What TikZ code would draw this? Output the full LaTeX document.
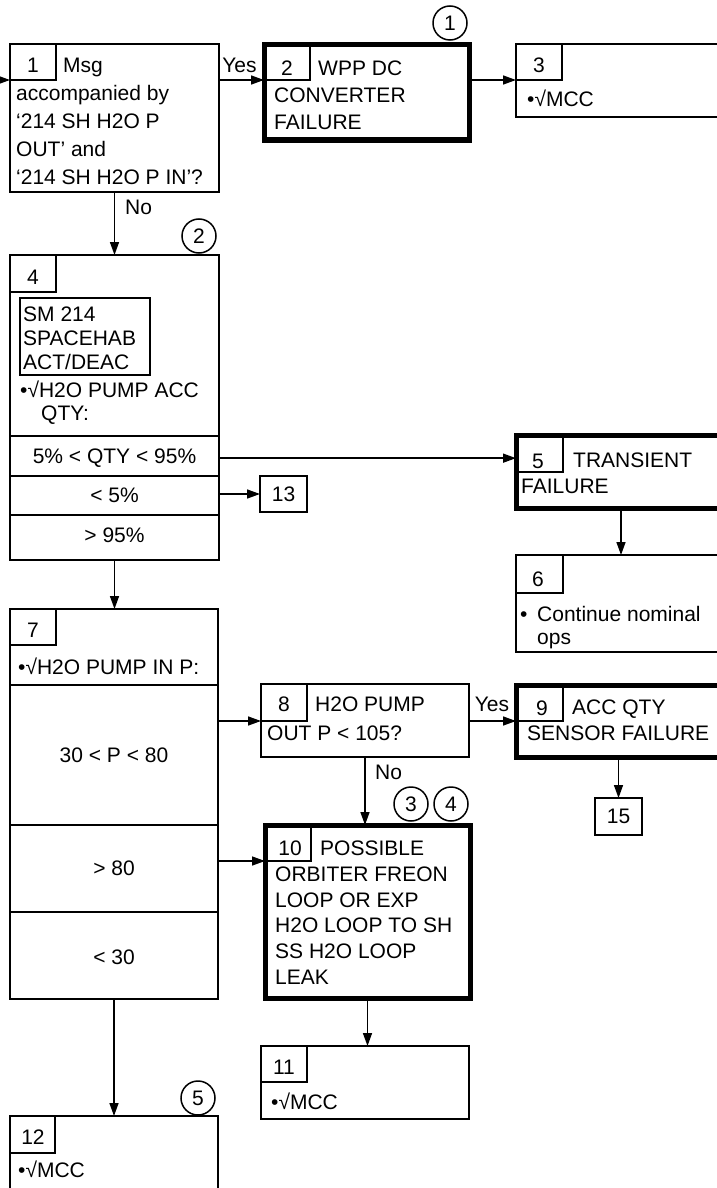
\documentclass[tikz,border=0pt]{standalone}
\usepackage{fontspec}
\setmainfont{Liberation Sans}
\usetikzlibrary{arrows.meta}
\newcommand\mlines[2]{\vtop{\baselineskip=#1pt\lineskiplimit=-30pt\lineskip=0pt #2}}
\tikzset{
  box/.style={draw, line width=2pt, anchor=north west, inner sep=0pt, outer sep=0pt},
  tbox/.style={box, line width=5pt},
  cell/.style={draw, line width=1.5pt, anchor=north west, inner sep=0pt, outer sep=0pt},
  num/.style={anchor=base, inner sep=0pt},
  txt/.style={anchor=base west, inner sep=0pt},
  rowlab/.style={anchor=base, inner sep=0pt},
  lab/.style={anchor=base, inner sep=0pt},
  arr/.style={line width=1.5pt, -{Triangle[length=13pt,width=9pt]}},
  circ/.style={draw, circle, line width=1.5pt, minimum size=34pt, inner sep=0pt},
  divider/.style={line width=2pt},
}
\begin{document}
\begin{tikzpicture}[x=1pt, y=-1pt, every node/.style={font=\fontsize{21}{25}\selectfont}]
\useasboundingbox (0,0) rectangle (717,1188);
\clip (0,0) rectangle (717,1188);
\fill[white] (0,0) rectangle (717,1188);

% Box 1
\node[box, minimum width=209pt, minimum height=148pt] (b1) at (10,44) {};
\node[cell, minimum width=46pt, minimum height=36pt] (n1) at (10,44) {};
\node[num] (k1) at (33,72.5) {1};
\node[txt] (t1) at (16,72.5) {\mlines{28}{\hbox{\hskip47pt Msg}\hbox{accompanied by}\hbox{‘214 SH H2O P}\hbox{OUT’ and}\hbox{‘214 SH H2O P IN’?}}};

% Box 2
\node[tbox, minimum width=205pt, minimum height=95pt] (b2) at (264,45) {};
\node[cell, minimum width=46pt, minimum height=35pt] (n2) at (264,45) {};
\node[num] (k2) at (287,75.5) {2};
\node[txt] (t2) at (274,75.5) {\mlines{27}{\hbox{\hskip44pt WPP DC}\hbox{CONVERTER}\hbox{FAILURE}}};
\node[circ] (c1) at (450,23) {1};

% Box 3
\node[box, minimum width=210pt, minimum height=73pt] (b3) at (516,44) {};
\node[cell, minimum width=46pt, minimum height=36pt] (n3) at (516,44) {};
\node[num] (k3) at (539,72.5) {3};
\node[txt] (t3) at (527,106.5) {•√MCC};

\node[lab] (y1) at (239.5,72.5) {Yes};
\node[txt] (no1) at (125,214.5) {No};
\node[circ] (c2) at (199,236) {2};

% Box 4
\node[box, minimum width=209pt, minimum height=305pt] (b4) at (10,255) {};
\node[cell, minimum width=46pt, minimum height=37pt] (n4) at (10,255) {};
\node[num] (k4) at (33,284.5) {4};
\node[cell, line width=2pt, minimum width=130pt, minimum height=77pt] (sm) at (20,298) {};
\node[txt] (tsm) at (23,321.5) {\mlines{24}{\hbox{SM 214}\hbox{SPACEHAB}\hbox{ACT/DEAC}}};
\node[txt] (t4) at (20,397.5) {\mlines{23}{\hbox{•√H2O PUMP ACC}\hbox{\hskip21pt QTY:}}};
\draw[divider] (b4.west |- 0,436) -- (b4.east |- 0,436);
\draw[divider] (b4.west |- 0,476) -- (b4.east |- 0,476);
\draw[divider] (b4.west |- 0,515) -- (b4.east |- 0,515);
\node[rowlab] (r41) at (114.5,463.5) {5\% < QTY < 95\%};
\node[rowlab] (r42) at (114.5,502.5) {< 5\%};
\node[rowlab] (r43) at (114.5,542.5) {> 95\%};

% Box 13
\node[box, minimum width=47pt, minimum height=36pt] (b13) at (260,476) {};
\node[num] (k13) at (283.5,501.5) {13};

% Box 5
\node[tbox, minimum width=210pt, minimum height=73pt] (b5) at (516,435) {};
\node[cell, minimum width=47pt, minimum height=37pt] (n5) at (516,435) {};
\node[num] (k5) at (538,468.5) {5};
\node[txt] (t5) at (521,467) {\mlines{26}{\hbox{\hskip52pt TRANSIENT}\hbox{FAILURE}}};

% Box 6
\node[box, minimum width=210pt, minimum height=97pt] (b6) at (516,555) {};
\node[cell, minimum width=47pt, minimum height=38pt] (n6) at (516,555) {};
\node[num] (k6) at (538,586.5) {6};
\node[txt] (t6) at (520,621.5) {\mlines{23}{\hbox{\makebox[17pt][l]{•}Continue nominal}\hbox{\hskip17pt ops}}};

% Box 7
\node[box, minimum width=208pt, minimum height=390pt] (b7) at (10,609) {};
\node[cell, minimum width=46pt, minimum height=36pt] (n7) at (10,609) {};
\node[num] (k7) at (33,637.5) {7};
\node[txt] (t7) at (18,674.5) {•√H2O PUMP IN P:};
\draw[divider] (b7.west |- 0,685) -- (b7.east |- 0,685);
\draw[divider] (b7.west |- 0,825) -- (b7.east |- 0,825);
\draw[divider] (b7.west |- 0,912) -- (b7.east |- 0,912);
\node[rowlab] (r71) at (114,762.5) {30 < P < 80};
\node[rowlab] (r72) at (114,875.5) {> 80};
\node[rowlab] (r73) at (114,964.5) {< 30};

% Box 8
\node[box, minimum width=208pt, minimum height=73pt] (b8) at (261,684) {};
\node[cell, minimum width=46pt, minimum height=37pt] (n8) at (261,684) {};
\node[num] (k8) at (284,711.5) {8};
\node[txt] (t8) at (267,711.5) {\mlines{29}{\hbox{\hskip48pt H2O PUMP}\hbox{OUT P < 105?}}};
\node[lab] (y2) at (492,711.5) {Yes};

% Box 9
\node[tbox, minimum width=210pt, minimum height=72pt] (b9) at (516,685) {};
\node[cell, minimum width=47pt, minimum height=36pt] (n9) at (516,685) {};
\node[num] (k9) at (542,715.5) {9};
\node[txt] (t9) at (527,714.5) {\mlines{26}{\hbox{\hskip45pt ACC QTY}\hbox{SENSOR FAILURE}}};

% Box 15
\node[box, minimum width=47pt, minimum height=37pt] (b15) at (595,798) {};
\node[num] (k15) at (618.5,823.5) {15};

\node[txt] (no2) at (375,779.5) {No};
\node[circ] (c3) at (411,804) {3};
\node[circ] (c4) at (451,804) {4};

% Box 10
\node[tbox, minimum width=205pt, minimum height=173pt] (b10) at (265,825) {};
\node[cell, minimum width=46pt, minimum height=36pt] (n10) at (265,825) {};
\node[num] (k10) at (290,855.5) {10};
\node[txt] (t10) at (275,855.5) {\mlines{25.8}{\hbox{\hskip45pt POSSIBLE}\hbox{ORBITER FREON}\hbox{LOOP OR EXP}\hbox{H2O LOOP TO SH}\hbox{SS H2O LOOP}\hbox{LEAK}}};

% Box 11
\node[box, minimum width=208pt, minimum height=73pt] (b11) at (261,1046) {};
\node[cell, minimum width=46pt, minimum height=36pt] (n11) at (261,1046) {};
\node[num] (k11) at (284,1074.5) {11};
\node[txt] (t11) at (271,1109.5) {•√MCC};

% Box 12
\node[box, minimum width=208pt, minimum height=110pt] (b12) at (10,1116) {};
\node[cell, minimum width=45pt, minimum height=37pt] (n12) at (10,1116) {};
\node[num] (k12) at (33,1144.5) {12};
\node[txt] (t12) at (18,1177.5) {•√MCC};
\node[circ] (c5) at (198,1098) {5};

% Connectors
\coordinate (in) at (-12,80);
\draw[arr] (in) -- (in -| b1.west);
\draw[arr] (n1.south -| b1.east) -- (n1.south -| b2.west);
\draw[arr] (n1.south -| b2.east) -- (n3.south west);
\draw[arr] (b1.south) -- (b1.south |- b4.north);
\draw[arr] (r41 -| b4.east) -- (r41 -| b5.west);
\draw[arr] (b13.west -| b4.east) -- (b13.west);
\draw[arr] (b5.south) -- (b5.south |- b6.north);
\draw[arr] (b4.south) -- (b4.south |- b7.north);
\draw[arr] (n8.south west -| b7.east) -- (n8.south west);
\draw[arr] (n10.south west -| b7.east) -- (n10.south west);
\draw[arr] (n8.south -| b8.east) -- (n8.south -| b9.west);
\draw[arr] (b15.north |- b9.south) -- (b15.north);
\draw[arr] (b8.south) -- (b8.south |- b10.north);
\draw[arr] (b10.south) -- (b10.south |- b11.north);
\draw[arr] (b7.south) -- (b7.south |- b12.north);
\end{tikzpicture}
\end{document}
